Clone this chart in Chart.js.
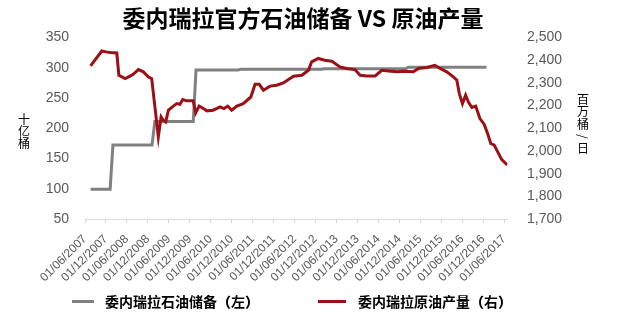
<!DOCTYPE html>
<html>
<head>
<meta charset="utf-8">
<script src="https://cdn.jsdelivr.net/npm/chart.js@4.4.1/dist/chart.umd.min.js"></script>
<style>
  html, body { margin: 0; padding: 0; background: #fff; }
  #wrap { position: relative; width: 617px; height: 312px; }
  .item { position: absolute; top: 291px; height: 20px; display: flex; align-items: center;
          font: bold 14px "Noto Sans CJK SC", sans-serif; color: #000; white-space: nowrap; }
  .item i { display: inline-block; height: 3px; }
  .item b { display: inline-block; width: 14px; }
  .item b.o { text-align: right; }
  .item b.c { text-align: left; }
</style>
</head>
<body>
<div id="wrap">
  <canvas id="c" width="617" height="312"></canvas>
  <div class="item" style="left:72px"><i style="background:#808080;width:22px;margin-right:11px"></i>委内瑞拉石油储备<b class="o">（</b>左<b class="c">）</b></div>
  <div class="item" style="left:318px"><i style="background:#9b1015;width:28px;margin-right:12px"></i>委内瑞拉原油产量<b class="o">（</b>右<b class="c">）</b></div>
</div>
<script>
// months counted from 01/06/2007
const xTickLabels = ["01/06/2007","01/12/2007","01/06/2008","01/12/2008","01/06/2009","01/12/2009",
  "01/06/2010","01/12/2010","01/06/2011","01/12/2011","01/06/2012","01/12/2012","01/06/2013",
  "01/12/2013","01/06/2014","01/12/2014","01/06/2015","01/12/2015","01/06/2016","01/12/2016","01/06/2017"];

// official reserves, billion barrels (left axis)
const reserveMonth = [1.6, 7.2, 8.0, 19.2, 20.0, 31.0, 31.8, 43.8, 44.6, 55.8, 56.6, 67.8, 68.6, 79.8, 80.6, 91.8, 92.6, 115];
const reserveValue = [99.4, 99.4, 172.3, 172.3, 211.2, 211.2, 296.5, 296.5, 297.6, 297.6, 297.7, 297.7, 298.4, 298.4, 298.3, 298.3, 300.9, 300.9];

// crude output, thousand barrels/day (right axis)
const outputMonth = [1.6, 4.8, 6.0, 7.2, 9.1, 9.7, 11.5, 12.9, 13.8, 15.3, 16.7, 18.1, 19.1, 21.0, 21.8, 22.4,
  23.1, 23.9, 25.3, 26.3, 27.2, 28.0, 29.1, 31.0, 31.7, 32.7, 33.9, 34.9, 36.7, 38.7, 39.8, 40.9, 42.0,
  43.5, 45.3, 47.5, 48.7, 49.9, 51.1, 53.0, 54.9, 56.8, 59.7, 62.1, 64.0, 64.9, 66.8, 68.7, 70.7, 73.0,
  75.0, 77.3, 78.8, 80.7, 83.1, 85.0, 86.9, 89.3, 91.2, 94.0, 95.5, 97.9, 100.2, 101.7, 103.6, 105.5,
  106.5, 107.2, 108.1, 109.0, 109.8, 110.8, 111.9, 113.1, 114.3, 115.3, 116.2, 117.2, 118.2, 119.3, 120.9];
const outputValue = [2375, 2441, 2437, 2434, 2432, 2334, 2319, 2330, 2338, 2359, 2349, 2327, 2319, 2062, 2150, 2136,
  2128, 2180, 2198, 2209, 2206, 2227, 2221, 2221, 2168, 2198, 2187, 2177, 2180, 2194, 2187, 2198, 2180,
  2198, 2209, 2238, 2294, 2294, 2268, 2286, 2290, 2300, 2330, 2334, 2356, 2393, 2408, 2400, 2396, 2371,
  2364, 2359, 2334, 2331, 2331, 2356, 2353, 2349, 2352, 2349, 2364, 2368, 2378, 2364, 2349, 2327,
  2312, 2253, 2209, 2246, 2216, 2192, 2198, 2143, 2118, 2077, 2033, 2026, 1996, 1963, 1938];

const leftTitle = "十亿桶";
const rightTitle = "百万桶/日";

const GRAY = '#808080', RED = '#9b1015', TICK = '#595959';
const NUM_FONT = 'Liberation Sans';
const CJK_FONT = '"Noto Sans CJK SC"';

// stacked vertical axis titles
const axisTitles = {
  id: 'axisTitles',
  afterDraw(chart) {
    const ctx = chart.ctx;
    const drawStack = (txt, x, yc, step) => {
      const chars = [...txt];
      let y = yc - (chars.length - 1) * step / 2;
      chars.forEach(ch => {
        ctx.save();
        ctx.translate(x, y);
        if (ch === '/') ctx.rotate(Math.PI / 2);
        ctx.fillText(ch, 0, 0);
        ctx.restore();
        y += step;
      });
    };
    ctx.save();
    ctx.font = '12px ' + CJK_FONT;
    ctx.fillStyle = '#000';
    ctx.textAlign = 'center';
    ctx.textBaseline = 'middle';
    drawStack(leftTitle, 24, 131, 12);
    drawStack(rightTitle, 583, 124, 12.4);
    ctx.restore();
  }
};

new Chart(document.getElementById('c'), {
  type: 'line',
  data: {
    datasets: [{
      label: '委内瑞拉原油产量（右）',
      data: outputMonth.map((m, i) => ({x: m, y: outputValue[i]})),
      yAxisID: 'y1',
      borderColor: RED,
      borderWidth: 3,
      pointRadius: 0,
      order: 0
    }, {
      label: '委内瑞拉石油储备（左）',
      data: reserveMonth.map((m, i) => ({x: m, y: reserveValue[i]})),
      yAxisID: 'y',
      borderColor: GRAY,
      borderWidth: 3,
      pointRadius: 0,
      order: 1
    }]
  },
  options: {
    responsive: false,
    animation: false,
    layout: { padding: { right: 11 } },
    plugins: {
      legend: { display: false },
      tooltip: { enabled: false },
      title: {
        display: true,
        text: '委内瑞拉官方石油储备 VS 原油产量',
        color: '#000',
        font: { family: CJK_FONT, size: 23, weight: 'bold' },
        padding: { top: 4, bottom: 6 }
      }
    },
    scales: {
      x: {
        type: 'linear',
        min: 0,
        max: 121,
        afterBuildTicks: s => { s.ticks = xTickLabels.map((_, i) => ({ value: i * 6 })); },
        afterFit: s => { s.height = 93; },
        ticks: {
          autoSkip: false,
          minRotation: 45,
          maxRotation: 45,
          padding: 9,
          color: TICK,
          font: { family: NUM_FONT, size: 12 },
          callback: v => xTickLabels[v / 6]
        },
        grid: { drawOnChartArea: false, drawTicks: true, tickLength: 4, color: '#d9d9d9' },
        border: { color: '#d9d9d9' }
      },
      y: {
        position: 'left',
        min: 50,
        max: 350,
        afterFit: s => { s.width = 85; },
        ticks: { stepSize: 50, padding: 16, color: TICK, font: { family: NUM_FONT, size: 14 } },
        grid: { display: false, drawTicks: false },
        border: { display: false }
      },
      y1: {
        position: 'right',
        min: 1700,
        max: 2500,
        afterFit: s => { s.width = 98.5; },
        ticks: {
          stepSize: 100, padding: 19.5, color: TICK, font: { family: NUM_FONT, size: 14 },
          callback: v => v.toLocaleString('en-US')
        },
        grid: { display: false, drawTicks: false },
        border: { display: false }
      }
    }
  },
  plugins: [axisTitles]
});
</script>
</body>
</html>
